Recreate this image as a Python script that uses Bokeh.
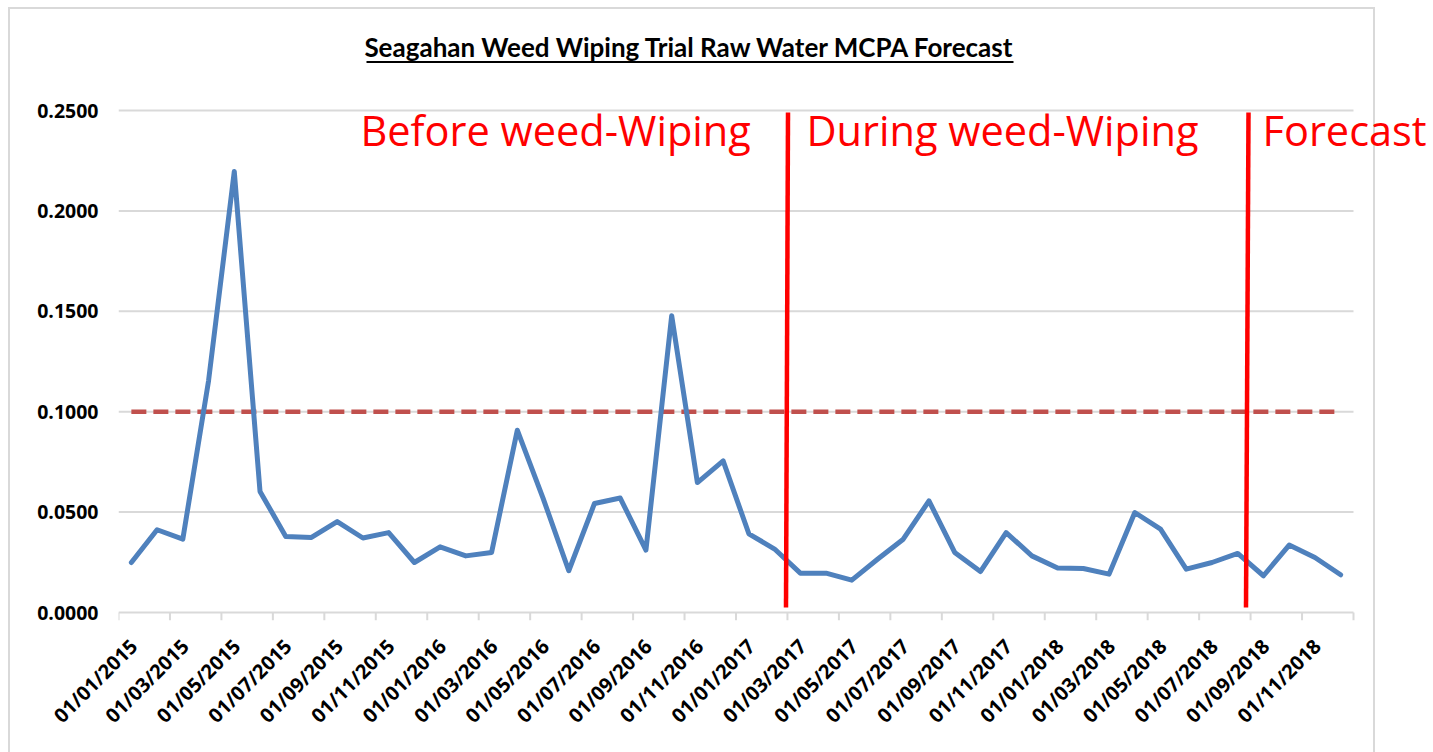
import pandas as pd
from math import pi
from bokeh.plotting import figure
from bokeh.models import Range1d, FixedTicker, Label, ColumnDataSource
from bokeh.embed import file_html
from bokeh.resources import INLINE

# ---------------- data ----------------
months = [d.strftime("%d/%m/%Y") for d in pd.date_range("2015-01-01", "2018-12-01", freq="MS")]
mcpa = [0.0249, 0.0412, 0.0365, 0.1154, 0.2196, 0.0603, 0.0379, 0.0374, 0.0453, 0.0371, 0.0398, 0.0249,
        0.0327, 0.0282, 0.0299, 0.0908, 0.0570, 0.0208, 0.0543, 0.0570, 0.0311, 0.1478, 0.0647, 0.0755,
        0.0392, 0.0316, 0.0196, 0.0196, 0.0161, 0.0265, 0.0365, 0.0556, 0.0299, 0.0204, 0.0398, 0.0282,
        0.0222, 0.0219, 0.0191, 0.0498, 0.0415, 0.0216, 0.0249, 0.0294, 0.0183, 0.0336, 0.0274, 0.0188]
limit_value = 0.1
limit = [limit_value] * len(months)
y_ticks = [0.0, 0.05, 0.10, 0.15, 0.20, 0.25]
phase_names = ["Before weed-Wiping", "During weed-Wiping", "Forecast"]
title_text = "Seagahan Weed Wiping Trial Raw Water MCPA Forecast"

# ---------------- geometry helpers (page pixel -> data) ----------------
PX_LEFT, PX_RIGHT, PX_TOP, PX_BOTTOM = 118.0, 1353.0, 110.0, 612.0
N = len(months)
def xd(px):
    return (px - PX_LEFT) / (PX_RIGHT - PX_LEFT) * N
def yd(py):
    return (PX_BOTTOM - py) / (PX_BOTTOM - PX_TOP) * 0.25

xpos = [i + 0.5 for i in range(N)]
src = ColumnDataSource(dict(x=xpos, mcpa=mcpa, limit=limit, month=months))

W, H = 1433, 752
FRAME_BOTTOM = 620
p = figure(width=W, height=H, output_backend="svg", toolbar_location=None,
           x_range=Range1d(xd(118), xd(W)), y_range=Range1d(yd(FRAME_BOTTOM), yd(0)),
           min_border_left=118, min_border_right=0, min_border_top=0,
           min_border_bottom=H - FRAME_BOTTOM)
p.outline_line_color = None
p.background_fill_alpha = 0
p.border_fill_alpha = 0
# chart-area border (light grey), drawn behind the transparent canvas
p.styles = {
    "background-color": "white",
    "background-image": "linear-gradient(#D9D9D9,#D9D9D9), linear-gradient(#D9D9D9,#D9D9D9), linear-gradient(#D9D9D9,#D9D9D9)",
    "background-size": "2px 800px, 1366px 2px, 2px 800px",
    "background-position": "8px 7px, 8px 7px, 1373px 7px",
    "background-repeat": "no-repeat",
}

p.xgrid.grid_line_color = None
p.ygrid.grid_line_color = None

TICK_FONT = "Open Sans"

# y axis (labels only)
p.yaxis.ticker = FixedTicker(ticks=y_ticks)
p.yaxis.major_label_overrides = {t: f"{t:.4f}" for t in y_ticks}
p.yaxis.axis_line_color = None
p.yaxis.major_tick_line_color = None
p.yaxis.major_tick_out = 0
p.yaxis.major_tick_in = 0
p.yaxis.minor_tick_line_color = None
p.yaxis.major_label_standoff = 20
p.yaxis.major_label_text_font = TICK_FONT
p.yaxis.major_label_text_font_style = "bold"
p.yaxis.major_label_text_font_size = "19.5px"
p.yaxis.major_label_text_color = "#000000"

# x axis (labels only, anchored a little right of each boundary tick as in Excel)
LABEL_SHIFT = xd(133) - xd(118)
x_ticks = list(range(0, N + 1, 2))
label_ticks = [t + LABEL_SHIFT for t in x_ticks[:-1]]
p.xaxis.ticker = FixedTicker(ticks=label_ticks)
p.xaxis.major_label_overrides = {lt: months[t] for lt, t in zip(label_ticks, x_ticks[:-1])}
p.xaxis.axis_line_color = None
p.xaxis.major_tick_line_color = None
p.xaxis.minor_tick_line_color = None
p.xaxis.major_label_orientation = pi / 4
p.xaxis.major_label_standoff = 16
p.xaxis.major_label_text_font = TICK_FONT
p.xaxis.major_label_text_font_style = "bold"
p.xaxis.major_label_text_font_size = "20px"
p.xaxis.major_label_text_color = "#000000"

# horizontal gridlines + category axis line and its boundary ticks
p.segment(x0=[0] * len(y_ticks), x1=[N] * len(y_ticks), y0=y_ticks, y1=y_ticks,
          line_color="#D9D9D9", line_width=2)
p.segment(x0=x_ticks, x1=x_ticks, y0=[0] * len(x_ticks), y1=[yd(FRAME_BOTTOM)] * len(x_ticks),
          line_color="#D9D9D9", line_width=2)

# series
p.line("x", "limit", source=src, line_color="#C0504D", line_width=4.5, line_dash="15 7")
p.line("x", "mcpa", source=src, line_color="#4F81BD", line_width=5, line_join="round", line_cap="round")

# phase boundaries (hand-drawn, slightly slanted)
bounds_top = [xd(787.5), xd(1248.0)]
bounds_bottom = [xd(785.5), xd(1245.5)]
p.segment(x0=bounds_top, y0=[yd(112)] * 2, x1=bounds_bottom, y1=[yd(607)] * 2,
          line_color="#FF0000", line_width=4.5)

# phase labels
phase_x = [xd(360), xd(806), xd(1262)]
for name, xx in zip(phase_names, phase_x):
    p.add_layout(Label(x=xx, y=yd(129), text=name, text_font="Open Sans",
                       text_font_size="41.5px", text_color="#FF0000",
                       text_align="left", text_baseline="alphabetic"))

# title with underline
p.add_layout(Label(x=xd(689.5), y=yd(46), text=title_text, text_font="Lato",
                   text_font_style="bold", text_font_size="26px", text_color="#000000",
                   text_align="center", text_baseline="alphabetic"))
p.segment(x0=[xd(366)], x1=[xd(1013)], y0=[yd(61.5)], y1=[yd(61.5)], line_color="#000000", line_width=2)

open("out.html", "w").write(file_html(p, INLINE))
